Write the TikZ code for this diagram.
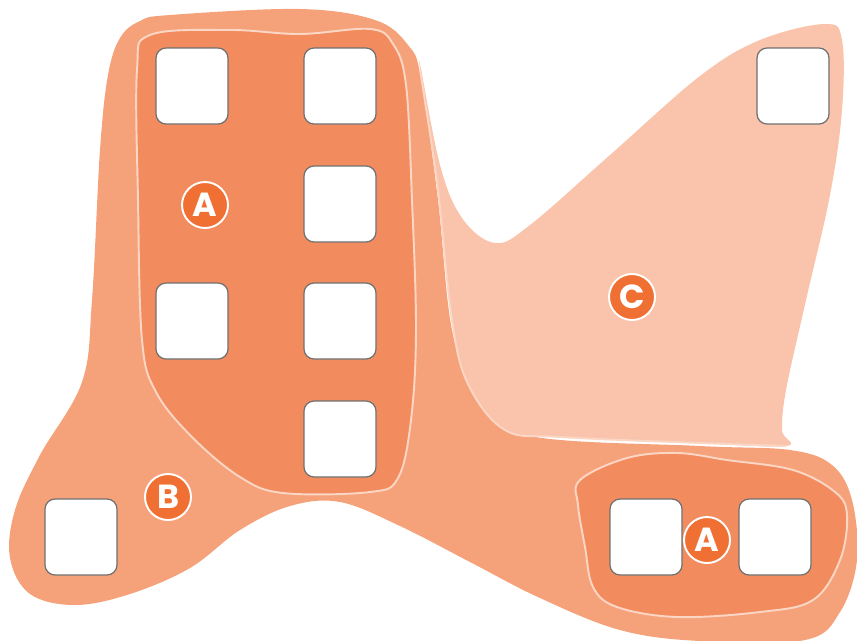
\documentclass[tikz,border=0pt]{standalone}
\usepackage{fontspec}
\usepackage{tikz}
\newfontfamily\tagfont{Poppins}
\definecolor{light}{RGB}{249, 196, 171}
\definecolor{mid}{RGB}{245, 162, 123}
\definecolor{dark}{RGB}{242, 140, 94}
\definecolor{deep}{RGB}{240, 111, 50}
\definecolor{rim}{RGB}{251, 214, 196}
\definecolor{edge}{RGB}{112, 112, 112}
\tikzset{
  slot/.style={draw=edge, fill=white, line width=0.7pt, rounded corners=0.2cm,
    minimum width=1.44cm, minimum height=1.52cm, inner sep=0pt},
  tag/.style={circle, fill=deep, draw=white, line width=1.1pt, minimum size=0.92cm,
    inner sep=0pt, text=white, font=\tagfont\bfseries\fontsize{19}{19}\selectfont},
  blob/.style={draw=rim, line width=1.1pt}
}

\begin{document}
\begin{tikzpicture}[x=0.02cm, y=-0.02cm]

  \useasboundingbox (0, 0) rectangle (857, 640);

  % region B
  \fill[mid]
    plot [smooth cycle, tension=0.6] coordinates {
      (170, 15) (300, 9) (375, 20) (408, 45) (421, 78) (438, 200) (452, 330)
      (478, 400) (530, 436) (700, 446) (790, 450) (832, 465) (852, 500)
      (857, 560) (840, 612) (805, 640) (700, 641) (620, 630) (540, 598)
      (470, 562) (400, 526) (340, 502) (290, 506) (240, 530) (190, 568)
      (130, 594) (75, 605) (30, 594) (10, 558) (15, 510) (40, 455)
      (82, 382) (92, 300) (100, 150) (108, 75) (120, 38) (140, 21) };

  % region C
  \fill[light]
    plot [smooth cycle, tension=0.6] coordinates {
      (420, 64) (440, 165) (462, 218) (495, 243) (530, 225) (610, 155)
      (700, 76) (760, 40) (825, 24) (842, 40) (842, 110) (830, 195)
      (806, 300) (786, 390) (782, 430) (786, 446) (700, 443) (560, 437)
      (505, 430) (468, 384) (452, 320) (438, 190) (424, 95) };
  \draw[rim, line width=1.1pt]
    plot [smooth, tension=0.6] coordinates {
      (786, 446) (700, 443) (560, 437) (505, 430) (468, 384) (452, 320)
      (438, 190) (424, 95) (420, 70) };

  % region A, left
  \filldraw[dark, blob]
    plot [smooth cycle, tension=0.6] coordinates {
      (150, 35) (230, 30) (300, 34) (370, 29) (393, 44) (406, 85)
      (412, 200) (416, 330) (411, 420) (398, 478) (370, 492) (283, 493)
      (240, 477) (192, 437) (156, 392) (142, 340) (138, 200) (137, 70) };

  % region A, right
  \filldraw[dark, blob]
    plot [smooth cycle, tension=0.6] coordinates {
      (580, 480) (627, 458) (677, 453) (727, 460) (793, 470) (835, 492)
      (847, 515) (840, 560) (813, 600) (760, 612) (677, 617) (617, 607)
      (593, 587) (585, 547) (578, 505) };

  % slots
  \node[slot] (s1) at (192, 86) {};
  \node[slot] (s2) at (340, 86) {};
  \node[slot] (s3) at (340, 204) {};
  \node[slot] (s4) at (192, 321) {};
  \node[slot] (s5) at (340, 321) {};
  \node[slot] (s6) at (340, 439) {};
  \node[slot] (s7) at (81, 537) {};
  \node[slot] (s8) at (646, 537) {};
  \node[slot] (s9) at (775, 537) {};
  \node[slot] (s10) at (793, 86) {};

  % tags
  \node[tag] (tagA) at (205, 205) {A};
  \node[tag] (tagB) at (168, 497) {B};
  \node[tag] (tagC) at (632, 297) {C};
  \node[tag] (tagA2) at (707, 540) {A};

\end{tikzpicture}
\end{document}
